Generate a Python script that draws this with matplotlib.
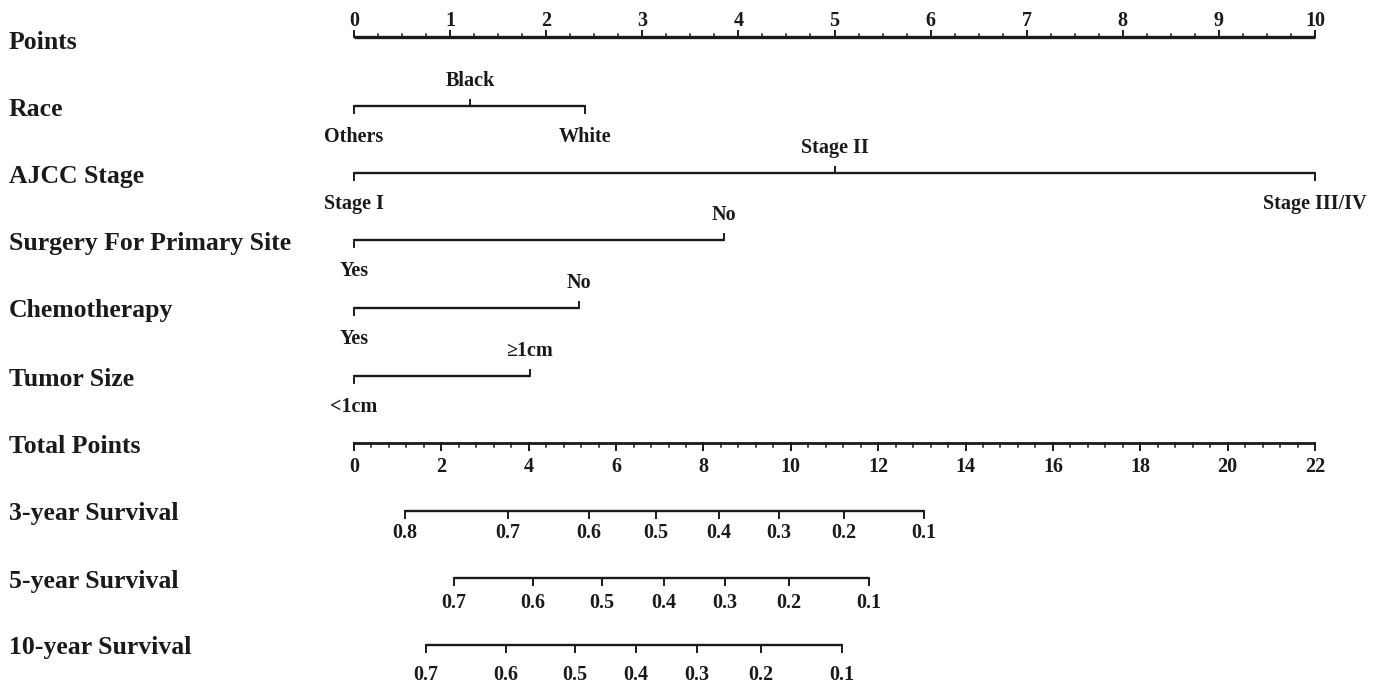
import matplotlib
matplotlib.use("Agg")
import matplotlib.pyplot as plt
import numpy as np

plt.rcParams['font.family'] = ['Liberation Serif', 'DejaVu Serif']
plt.rcParams['font.weight'] = 'bold'

# variable names on the left, top to bottom
row_names = ["Points", "Race", "AJCC Stage", "Surgery For Primary Site",
             "Chemotherapy", "Tumor Size", "Total Points",
             "3-year Survival", "5-year Survival", "10-year Survival"]

# categorical predictors: level labels and their points (0-10 scale)
race_levels = ["Others", "Black", "White"]
race_points = [0, 1.21, 2.40]
stage_levels = ["Stage I", "Stage II", "Stage III/IV"]
stage_points = [0, 5.0, 10.0]
surgery_levels = ["Yes", "No"]
surgery_points = [0, 3.85]
chemo_levels = ["Yes", "No"]
chemo_points = [0, 2.34]
tumor_levels = ["<1cm", "\u22651cm"]
tumor_points = [0, 1.83]

# survival probabilities and the total points where they fall
surv3_probs = ["0.8", "0.7", "0.6", "0.5", "0.4", "0.3", "0.2", "0.1"]
surv3_total = [1.16, 3.53, 5.38, 6.91, 8.35, 9.73, 11.22, 13.04]
surv5_probs = ["0.7", "0.6", "0.5", "0.4", "0.3", "0.2", "0.1"]
surv5_total = [2.29, 4.10, 5.68, 7.09, 8.49, 9.95, 11.78]
surv10_probs = ["0.7", "0.6", "0.5", "0.4", "0.3", "0.2", "0.1"]
surv10_total = [1.65, 3.47, 5.05, 6.45, 7.85, 9.32, 11.17]

points_max = 10
total_max = 22

# layout (y in pixels from the top)
W, H = 1386, 683
x0_px, x1_px = 354, 1315
label_y = [40, 107, 174, 241, 308, 377, 444, 511, 579, 645]
axis_y = [37, 106, 173, 240, 308, 376, 443, 511, 578, 645]

fig = plt.figure(figsize=(W / 100, H / 100), dpi=100)
ax = fig.add_axes([0, 0, 1, 1])
px_per_pt = (x1_px - x0_px) / points_max
ax.set_xlim(-x0_px / px_per_pt, (W - x0_px) / px_per_pt)
ax.set_ylim(H, 0)
ax.axis("off")

ink = "#1a1a1a"
lab_fs = 18.5
tick_fs = 14.5
major = 6.5
minor = 3.5


def tp_to_pts(tp):
    return np.asarray(tp, dtype=float) * points_max / total_max


for name, y in zip(row_names, label_y):
    ax.text(-x0_px / px_per_pt + 9 / px_per_pt, y, name, fontsize=lab_fs,
            fontweight="bold", ha="left", va="center_baseline", color=ink)

# Points scale
y = axis_y[0]
ax.plot([0, points_max], [y, y], color=ink, lw=2.4, solid_capstyle="butt")
for v in np.arange(0, points_max + 0.001, 0.25):
    is_major = abs(v - round(v)) < 1e-6
    ax.plot([v, v], [y, y - (major if is_major else minor)], color=ink,
            lw=1.4 if is_major else 1.1)
    if is_major:
        ax.text(v, y - 18, str(int(round(v))), fontsize=tick_fs,
                ha="center", va="center_baseline", color=ink)


def cat_axis(y, levels, pts, first_below=True):
    ax.plot([min(pts), max(pts)], [y, y], color=ink, lw=1.7,
            solid_capstyle="butt")
    order = np.argsort(pts)
    for k, i in enumerate(order):
        below = (k % 2 == 0) if first_below else (k % 2 == 1)
        p = pts[i]
        if below:
            ax.plot([p, p], [y, y + major], color=ink, lw=1.4)
            ax.text(p, y + 28, levels[i], fontsize=tick_fs, ha="center",
                    va="center_baseline", color=ink)
        else:
            ax.plot([p, p], [y, y - major], color=ink, lw=1.4)
            ax.text(p, y - 27, levels[i], fontsize=tick_fs, ha="center",
                    va="center_baseline", color=ink)


cat_axis(axis_y[1], race_levels, race_points)
cat_axis(axis_y[2], stage_levels, stage_points)
cat_axis(axis_y[3], surgery_levels, surgery_points)
cat_axis(axis_y[4], chemo_levels, chemo_points)
cat_axis(axis_y[5], tumor_levels, tumor_points)

# Total points scale
y = axis_y[6]
ax.plot([0, points_max], [y, y], color=ink, lw=2.0, solid_capstyle="butt")
for v in np.arange(0, total_max + 0.001, 0.4):
    is_major = abs(v / 2 - round(v / 2)) < 1e-6
    xp = tp_to_pts(v)
    ax.plot([xp, xp], [y, y + (major if is_major else minor)], color=ink,
            lw=1.4 if is_major else 1.1)
    if is_major:
        ax.text(xp, y + 22, str(int(round(v))), fontsize=tick_fs,
                ha="center", va="center_baseline", color=ink)


def surv_axis(y, probs, totals, gap=22):
    xs = tp_to_pts(totals)
    ax.plot([xs.min(), xs.max()], [y, y], color=ink, lw=1.7,
            solid_capstyle="butt")
    for xp, lab in zip(xs, probs):
        ax.plot([xp, xp], [y, y + major], color=ink, lw=1.4)
        ax.text(xp, y + gap, lab, fontsize=tick_fs, ha="center",
                va="center_baseline", color=ink)


surv_axis(axis_y[7], surv3_probs, surv3_total, gap=20)
surv_axis(axis_y[8], surv5_probs, surv5_total, gap=22)
surv_axis(axis_y[9], surv10_probs, surv10_total, gap=28)

fig.savefig("out.png", dpi=100, facecolor="white")
